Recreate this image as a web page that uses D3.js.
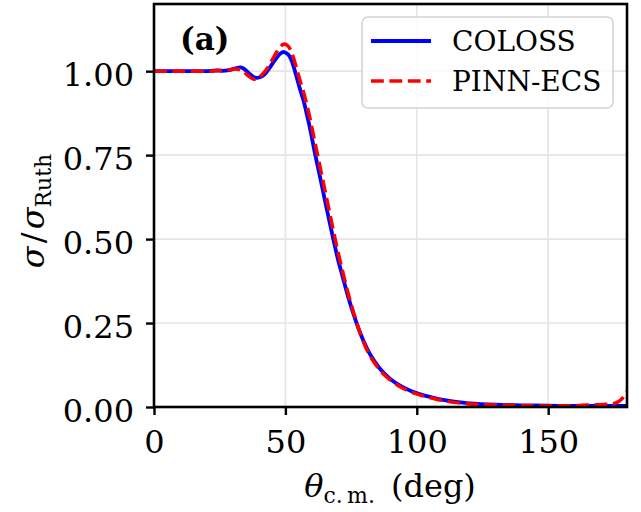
<!DOCTYPE html>
<html>
<head>
<meta charset="utf-8">
<script src="https://cdn.jsdelivr.net/npm/d3@7"></script>
<style>
  html, body { margin: 0; padding: 0; background: #ffffff; }
  svg { display: block; }
</style>
</head>
<body>
<svg id="chart" width="641" height="512"></svg>
<script>
// ---------------- data ----------------
const thetaDeg = [0, 5, 10, 15, 20, 22, 24, 26, 28, 30, 32, 33, 34, 36, 38, 39, 40, 42, 44, 46, 48, 49.5, 51, 52, 53, 54, 55, 56, 57, 58, 59, 60, 61, 62, 64, 66, 68, 70, 72, 74, 76, 78, 80, 82, 84, 86, 88, 90, 94, 98, 102, 106, 110, 115, 120, 130, 140, 150, 160, 165, 170, 174, 176, 178, 179, 180];

const colossRatio = [1.000, 1.000, 1.000, 1.000, 1.000, 1.001, 1.002, 1.001, 1.002, 1.006, 1.010, 1.011, 1.008, 0.995, 0.982, 0.980, 0.981, 0.990, 1.010, 1.033, 1.052, 1.057, 1.050, 1.038, 1.017, 0.990, 0.962, 0.935, 0.910, 0.877, 0.843, 0.805, 0.765, 0.728, 0.655, 0.580, 0.508, 0.440, 0.382, 0.325, 0.275, 0.230, 0.192, 0.160, 0.135, 0.114, 0.097, 0.083, 0.062, 0.047, 0.036, 0.028, 0.021, 0.015, 0.011, 0.007, 0.005, 0.004, 0.003, 0.003, 0.003, 0.003, 0.003, 0.003, 0.003, 0.003];

const pinnRatio = [1.000, 1.000, 1.000, 1.000, 1.000, 1.000, 1.002, 1.003, 1.003, 1.006, 1.006, 1.004, 1.000, 0.985, 0.976, 0.977, 0.982, 0.997, 1.020, 1.048, 1.072, 1.081, 1.075, 1.062, 1.042, 1.015, 0.988, 0.960, 0.935, 0.905, 0.872, 0.835, 0.797, 0.760, 0.685, 0.610, 0.535, 0.462, 0.397, 0.335, 0.280, 0.230, 0.188, 0.155, 0.130, 0.110, 0.093, 0.080, 0.059, 0.044, 0.034, 0.026, 0.019, 0.013, 0.009, 0.006, 0.004, 0.003, 0.004, 0.006, 0.007, 0.009, 0.013, 0.024, 0.034, 0.046];

const seriesNames = ["COLOSS", "PINN-ECS"];
const xTicks = [0, 50, 100, 150];
const yTicks = [0.00, 0.25, 0.50, 0.75, 1.00];
const xDomain = [0, 180];
const yDomain = [0, 1.2];

// ---------------- layout ----------------
const svg = d3.select("#chart");
const plot = { left: 154, right: 627, top: 4, bottom: 407 };
const FONT = "'DejaVu Serif', serif";

const x = d3.scaleLinear().domain(xDomain).range([plot.left, plot.right]);
const y = d3.scaleLinear().domain(yDomain).range([plot.bottom, plot.top]);

// grid
const grid = svg.append("g");
grid.selectAll("line.gx").data(xTicks).join("line")
  .attr("x1", d => x(d)).attr("x2", d => x(d))
  .attr("y1", plot.top).attr("y2", plot.bottom)
  .attr("stroke", "#e5e5e5").attr("stroke-width", 1.6);
grid.selectAll("line.gy").data(yTicks).join("line")
  .attr("x1", plot.left).attr("x2", plot.right)
  .attr("y1", d => y(d)).attr("y2", d => y(d))
  .attr("stroke", "#e5e5e5").attr("stroke-width", 1.6);

// clip
svg.append("clipPath").attr("id", "clip").append("rect")
  .attr("x", plot.left).attr("y", plot.top)
  .attr("width", plot.right - plot.left).attr("height", plot.bottom - plot.top);

const line = d3.line().curve(d3.curveCatmullRom.alpha(0.5))
  .x(d => x(d[0])).y(d => y(d[1]));

const colossPts = thetaDeg.map((t, i) => [t, colossRatio[i]]);
const pinnPts = thetaDeg.map((t, i) => [t, pinnRatio[i]]);

const lines = svg.append("g").attr("clip-path", "url(#clip)");
lines.append("path").attr("d", line(colossPts))
  .attr("fill", "none").attr("stroke", "#0000ff").attr("stroke-width", 3.8)
  .attr("stroke-linejoin", "round");
lines.append("path").attr("d", line(pinnPts))
  .attr("fill", "none").attr("stroke", "#ff0000").attr("stroke-width", 3.5)
  .attr("stroke-dasharray", "12.8,5.6");

// axes
const xAxis = d3.axisBottom(x).tickValues(xTicks).tickSize(8).tickPadding(15).tickFormat(d3.format("d"));
const yAxis = d3.axisLeft(y).tickValues(yTicks).tickSize(8).tickPadding(12).tickFormat(d3.format(".2f"));

const gx = svg.append("g").attr("transform", `translate(0,${plot.bottom})`).call(xAxis);
const gy = svg.append("g").attr("transform", `translate(${plot.left},0)`).call(yAxis);
[gx, gy].forEach(g => {
  g.select(".domain").remove();
  g.selectAll(".tick line").attr("stroke", "#000").attr("stroke-width", 2.4);
  g.selectAll(".tick text").attr("fill", "#000")
    .style("font-family", FONT).style("font-size", "32px");
});
gy.selectAll(".tick text").attr("dy", "0.44em");

// frame
svg.append("rect")
  .attr("x", plot.left).attr("y", plot.top)
  .attr("width", plot.right - plot.left).attr("height", plot.bottom - plot.top)
  .attr("fill", "none").attr("stroke", "#000").attr("stroke-width", 2.6);

// panel label
svg.append("text").attr("x", 180).attr("y", 50)
  .style("font-family", FONT).style("font-size", "31px").style("font-weight", "bold")
  .text("(a)");

// x label
const xl = svg.append("text").attr("x", 390).attr("y", 497)
  .attr("text-anchor", "middle")
  .style("font-family", FONT).style("font-size", "32px");
xl.append("tspan").style("font-style", "italic").text("θ");
xl.append("tspan").attr("dy", 6).style("font-size", "22px").text("c.\u2009m.");
xl.append("tspan").attr("dy", -6).text("\u2002(deg)");

// y label
const yl = svg.append("text")
  .attr("transform", "translate(44,211) rotate(-90)")
  .attr("text-anchor", "middle")
  .style("font-family", FONT).style("font-size", "32px");
yl.append("tspan").style("font-style", "italic").text("σ");
yl.append("tspan").text("\u200a/\u200a");
yl.append("tspan").style("font-style", "italic").text("σ");
yl.append("tspan").attr("dy", 7).style("font-size", "22px").text("Ruth");

// legend
const lg = svg.append("g");
lg.append("rect").attr("x", 362).attr("y", 17).attr("width", 251).attr("height", 91)
  .attr("rx", 6).attr("ry", 6)
  .attr("fill", "#ffffff").attr("fill-opacity", 0.8)
  .attr("stroke", "#d4d4d4").attr("stroke-width", 1.6);
const legColors = ["#0000ff", "#ff0000"];
const legDash = [null, "12.8,5.6"];
const legWidth = [3.8, 3.5];
seriesNames.forEach((name, i) => {
  const cy = 41 + i * 40;
  lg.append("line").attr("x1", 371).attr("x2", 431).attr("y1", cy).attr("y2", cy)
    .attr("stroke", legColors[i]).attr("stroke-width", legWidth[i])
    .attr("stroke-dasharray", legDash[i]);
  lg.append("text").attr("x", 452).attr("y", cy + 10)
    .style("font-family", FONT).style("font-size", "28px").text(name);
});
</script>
</body>
</html>
